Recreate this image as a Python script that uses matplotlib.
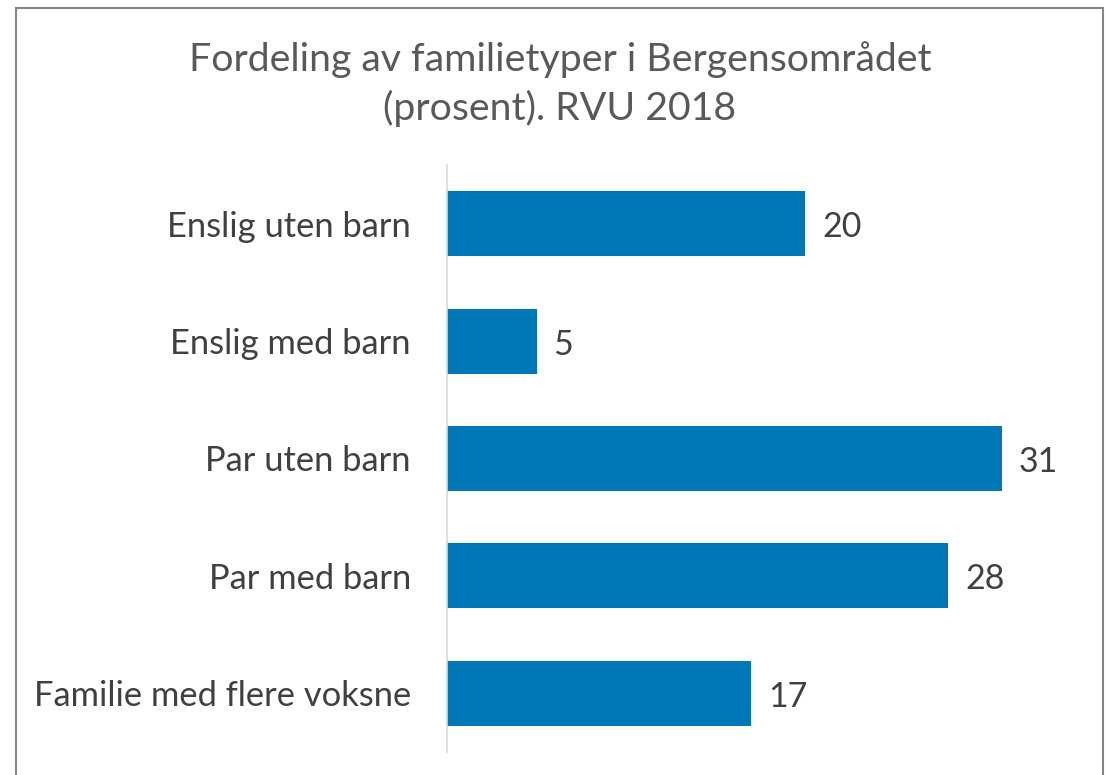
import numpy as np
import matplotlib.pyplot as plt
from matplotlib.patches import Rectangle

categories = ["Enslig uten barn", "Enslig med barn", "Par uten barn",
              "Par med barn", "Familie med flere voksne"]
values = [20, 5, 31, 28, 17]

plt.rcParams['font.family'] = ['Lato', 'DejaVu Sans']

fig = plt.figure(figsize=(11.06, 7.75), dpi=100)
W, H = 1106, 775

# chart border (bottom edge falls outside the picture)
fig.patches.append(Rectangle((16 / W, -0.05), (1103 - 16) / W, 1.05 - 8 / H,
                             transform=fig.transFigure, fill=False,
                             edgecolor="#868686", linewidth=1.5))

ax = fig.add_axes([447 / W, (775 - 752) / H, 626.5 / W, 587 / H])
y = np.arange(len(categories))
bars = ax.barh(y, values, height=0.555, color="#0077B6")
ax.set_ylim(len(categories) - 0.5, -0.5)
ax.set_xlim(0, 35)

for yi, v in zip(y, values):
    ax.text(v + 0.95, yi + 0.03, str(v), va="center", ha="left",
            fontsize=24.5, color="#404040")

ax.set_yticks(y)
ax.set_yticklabels(categories, fontsize=24.8, color="#404040")
ax.tick_params(axis="y", length=0, pad=26)
ax.set_xticks([])
for s in ["top", "right", "bottom"]:
    ax.spines[s].set_visible(False)
ax.spines["left"].set_color("#d9d9d9")
ax.spines["left"].set_linewidth(1.2)

fig.text(560 / W, 1 - 84 / H, "Fordeling av familietyper i Bergensområdet\n(prosent). RVU 2018",
         ha="center", va="center", fontsize=28.3, color="#595959", linespacing=1.38)

fig.savefig("out.png", dpi=100)
